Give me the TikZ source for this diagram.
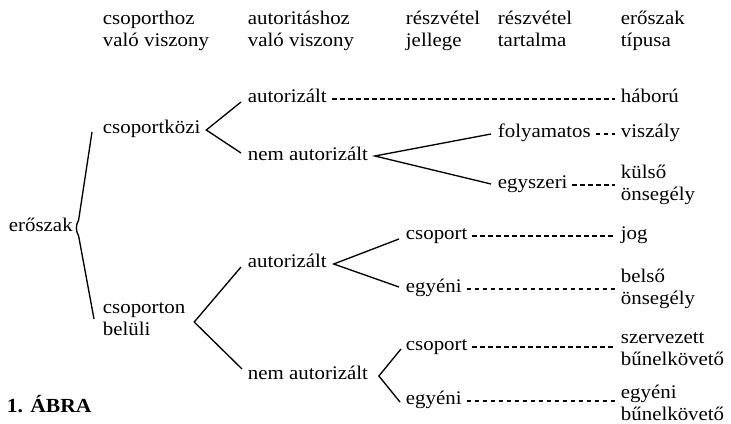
\documentclass[tikz,border=0pt]{standalone}
\usepackage{fontspec}
\setmainfont{Liberation Serif}[FakeStretch=1.08]
\usetikzlibrary{calc}
\begin{document}
\begin{tikzpicture}[x=0.75pt,y=-0.75pt,
  lbl/.style={anchor=west,inner sep=2pt,font=\fontsize{14.5}{16.5}\selectfont,text height=1.55ex,text depth=.45ex},
  lbltwo/.style={anchor=west,inner sep=2pt,font=\fontsize{14.5}{16.5}\selectfont,align=left},
  br/.style={line width=1pt,line join=miter},
  dl/.style={line width=0.9pt,dash pattern=on 3.6pt off 2.4pt,shorten <=1.5pt,shorten >=2.5pt}]
\useasboundingbox (0,0) rectangle (731,424);
% headers
\node[lbltwo] (h1) at (100,31) {csoporthoz\strut\\való viszony\strut};
\node[lbltwo] (h2) at (245,31) {autoritáshoz\strut\\való viszony\strut};
\node[lbltwo] (h3) at (403,31) {részvétel\strut\\jellege\strut};
\node[lbltwo] (h4) at (495,31) {részvétel\strut\\tartalma\strut};
\node[lbltwo] (h5) at (618,31) {erőszak\strut\\típusa\strut};
% tree
\node[lbl] (ersz) at (6,228) {erőszak};
\node[lbl] (ck) at (100,130) {csoportközi};
\node[lbltwo] (cb) at (100,320) {csoporton\strut\\belüli\strut};
\node[lbl] (a1) at (245,99) {autorizált};
\node[lbl] (na1) at (245,157) {nem autorizált};
\node[lbl] (a2) at (245,264) {autorizált};
\node[lbl] (na2) at (245,376) {nem autorizált};
\node[lbl] (fo) at (495,134) {folyamatos};
\node[lbl] (egy1) at (495,185) {egyszeri};
\node[lbl] (cs1) at (403,236) {csoport};
\node[lbl] (eg1) at (403,289) {egyéni};
\node[lbl] (cs2) at (403,347) {csoport};
\node[lbl] (eg2) at (403,401) {egyéni};
% types
\node[lbl] (t1) at (618,99) {háború};
\node[lbl] (t2) at (618,134) {viszály};
\node[lbltwo] (t3) at (618,185) {külső\strut\\önsegély\strut};
\node[lbl] (t4) at (618,236) {jog};
\node[lbltwo] (t5) at (618,289) {belső\strut\\önsegély\strut};
\node[lbltwo] (t6) at (618,350) {szervezett\strut\\bűnelkövető\strut};
\node[lbltwo] (t7) at (618,405) {egyéni\strut\\bűnelkövető\strut};
\node[anchor=west,inner sep=2pt,font=\fontsize{15}{17}\selectfont\bfseries] (abra) at (4,404) {1. ÁBRA};
% erőszak bracket
\draw[br] ($(ck.west)+(-8,2)$) -- ($(ersz.east)+(3,-8)$)
  .. controls ($(ersz.east)+(0,-3)$) and ($(ersz.east)+(0,3)$) .. ($(ersz.east)+(3,8)$)
  -- ($(cb.west)+(-6,-1)$);
% branches
\draw[br] ($(a1.west)+(-4,3)$) -- ($(ck.east)+(3,0)$) -- ($(na1.west)+(-4,-4)$);
\draw[br] ($(fo.west)+(-4,0)$) -- ($(na1.east)+(4,-1)$) -- ($(egy1.west)+(-4,-1)$);
\draw[br] ($(a2.west)+(-4,3)$) -- ($(cb.east)+(6,2)$) -- ($(na2.west)+(-3,-7)$);
\draw[br] ($(cs1.west)+(-4,3)$) -- ($(a2.east)+(4,0)$) -- ($(eg1.west)+(-4,-2)$);
\draw[br] ($(cs2.west)+(-2,2)$) -- ($(na2.east)+(8,0)$) -- ($(eg2.west)+(-3,1)$);
% dashed connectors
\draw[dl] (a1.east) -- (t1.west);
\draw[dl] (fo.east) -- (t2.west);
\draw[dl] (egy1.east) -- (t3.west);
\draw[dl] (cs1.east) -- (t4.west);
\draw[dl] (eg1.east) -- (t5.west);
\draw[dl] (cs2.east) -- (cs2.east -| t6.west);
\draw[dl] (eg2.east) -- (eg2.east -| t7.west);
\end{tikzpicture}
\end{document}
